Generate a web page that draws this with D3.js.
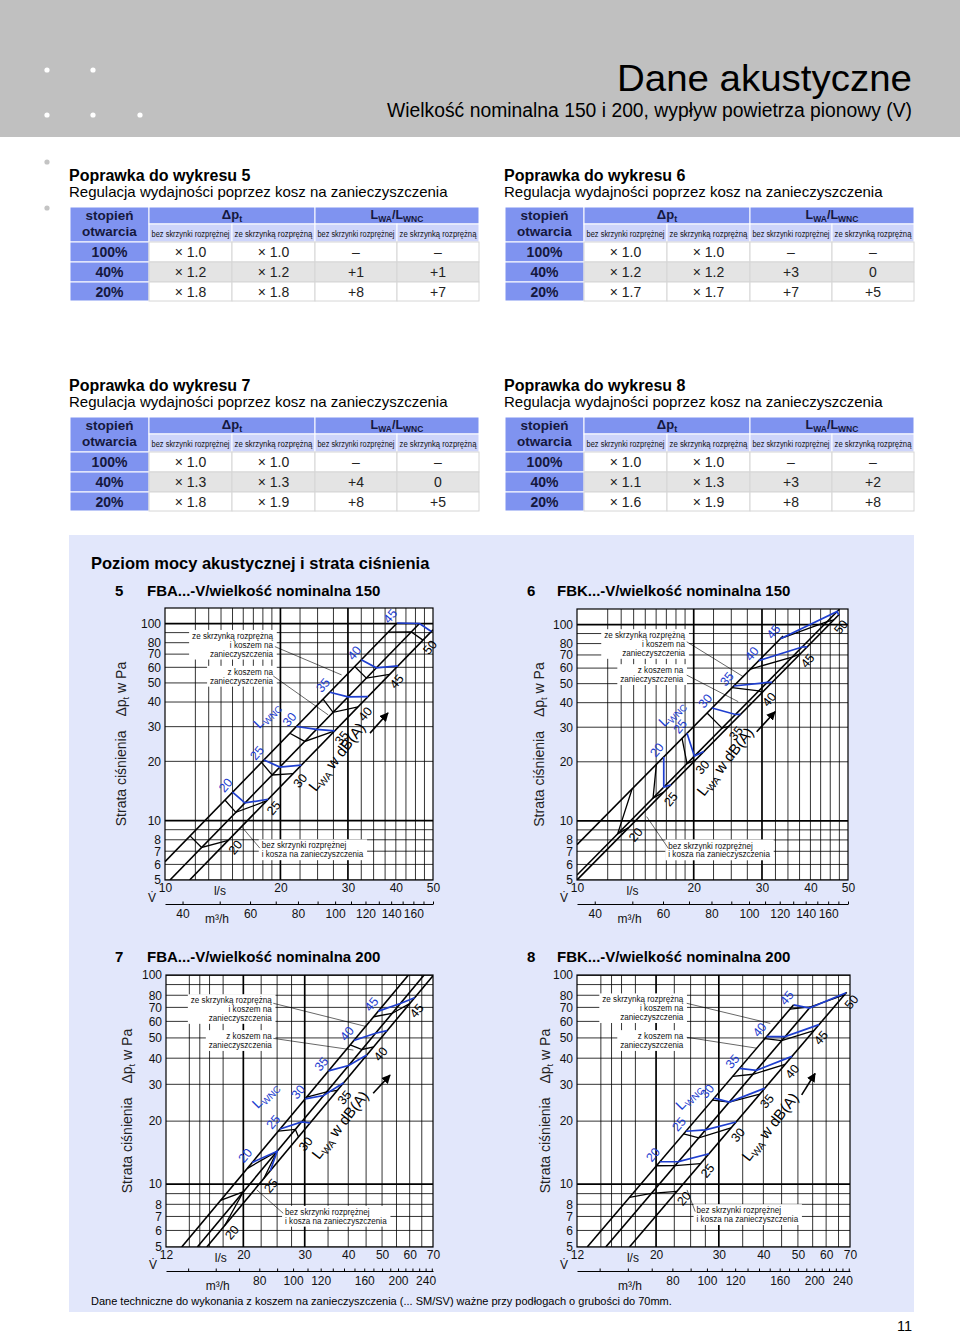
<!DOCTYPE html>
<html><head><meta charset="utf-8">
<script src="https://cdn.jsdelivr.net/npm/d3@7"></script>
<style>
body{margin:0;background:#fff;}
svg{display:block;font-family:"Liberation Sans",Arial,Helvetica,sans-serif;}
</style></head><body>
<svg id="page" width="960" height="1335"></svg>
<script>
// ---------------- DATA ----------------
const pageTitle = "Dane akustyczne";
const pageSubtitle = "Wielkość nominalna 150 i 200, wypływ powietrza pionowy (V)";
const sectionTitle = "Poziom mocy akustycznej i strata ciśnienia";
const footNote = "Dane techniczne do wykonania z koszem na zanieczyszczenia (... SM/SV) ważne przy podłogach o grubości do 70mm.";
const pageNumber = "11";

const tableNums = [5, 6, 7, 8];
const tableTitlePrefix = "Poprawka do wykresu ";
const tableSubtitle = "Regulacja wydajności poprzez kosz na zanieczyszczenia";
const openings = ["100%", "40%", "20%"];
const subHeads = ["bez skrzynki rozprężnej", "ze skrzynką rozprężną", "bez skrzynki rozprężnej", "ze skrzynką rozprężną"];
const table5 = [["× 1.0","× 1.0","–","–"],["× 1.2","× 1.2","+1","+1"],["× 1.8","× 1.8","+8","+7"]];
const table6 = [["× 1.0","× 1.0","–","–"],["× 1.2","× 1.2","+3","0"],["× 1.7","× 1.7","+7","+5"]];
const table7 = [["× 1.0","× 1.0","–","–"],["× 1.3","× 1.3","+4","0"],["× 1.8","× 1.9","+8","+5"]];
const table8 = [["× 1.0","× 1.0","–","–"],["× 1.1","× 1.3","+3","+2"],["× 1.6","× 1.9","+8","+8"]];

const chartTitles = ["FBA...-V/wielkość nominalna 150","FBK...-V/wielkość nominalna 150","FBA...-V/wielkość nominalna 200","FBK...-V/wielkość nominalna 200"];
const yTicks = [5,6,7,8,10,20,30,40,50,60,70,80,100];
const gridY = [5,6,7,8,9,10,20,30,40,50,60,70,80,90,100];
const gridYHeavy = [10,100];
const xTicks56 = [10,20,30,40,50];
const xTicks78 = [12,20,30,40,50,60,70];
const m3Ticks56 = [40,60,80,100,120,140,160];
const m3Ticks78 = [80,100,120,160,200,240];
const gridX56 = [12,13,14,15,16,17,18,19,20,22.5,25,27.5,30,32.5,35,37.5,40,42.5,45,47.5];
const gridX78 = [14,15,16,17.5,20,22.5,25,27.5,30,35,40,45,50,55,60,65];
const gridXHeavy = [20,30];
const lwaLevels = [20,25,30,35,40,45,50];
const lwncLevels = [20,25,30,35,40,45];
const annoTop = ["ze skrzynką rozprężną","i koszem na","zanieczyszczenia"];
const annoMid = ["z koszem na","zanieczyszczenia"];
const annoBot = ["bez skrzynki rozprężnej","i kosza na zanieczyszczenia"];

// system curves: Δp (Pa) at 10 l/s for [ze skrzynką+kosz, z koszem, bez skrzynki]; Δp ~ V²
const sys5 = [6.2, 4.71, 3.72];   const sysEnd5 = [40.3, 46.1, 50];
const sys6 = [7.56, 5.3, 5.0];    const sysEnd6 = [34, 47.5, 47.5];
const sys7 = [2.822, 2.295, 2.026]; const sysEnd7 = [70, 70, 70];
const sys8 = [3.043, 2.395, 1.763]; const sysEnd8 = [48.65, 54.24, 68.5];

// iso-lines: flow (l/s) where each level crosses [top, middle, bottom] curve
const lwa5 = [[11.62,12.46,14.62],[14.33,15.30,18.40],[17.85,19.03,21.59],[21.16,23.15,27.71],[25.84,27.44,31.88],[31.25,33.51,38.54],[38.2,43.9,47.07]];
const lwnc5 = [[15.00,16.16,18.58],[18.11,19.93,22.69],[22.02,24.83,27.71],[26.90,30.02,33.84],[32.5,35.58,40.52],[40.3,46.1,49.5]];
const lwa6 = [[13.87,12.73,13.59],[16.02,15.71,16.74],[18.66,19.22,20.20],[21.65,23.67,24.63],[25.12,29.43,30.03],[28.02,35.88,37.71],[33.48,44.19,45.97]];
const lwnc6 = [[16.74,16.74,17.48],[19.22,20.08,21.23],[22.30,25.63,26.40],[25.37,30.93,31.86],[29.43,38.08,39.23],[33.48,46.9,47.3]];
const lwa7 = [[17.2,20.0,17.7],[20.5,25.0,22.9],[25.2,28.2,28.8],[30.4,34.7,37.2],[40.5,43.8,47.3],[47.3,53.4,60.0]];
const lwnc7 = [[21.2,25.0,23.9],[25.5,29.4,31.1],[30.1,34.0,38.8],[35.1,40.1,45.2],[41.5,47.9,51.7],[48.8,56.4,62.0]];
const lwa8 = [[16.84,19.41,22.87],[20.05,22.62,26.65],[23.89,26.36,32.45],[28.77,32.10,39.09],[32.81,37.41,46.04],[40.38,45.03,55.45],[47.5,54.24,67.5]];
const lwnc8 = [[20.50,23.12,28.15],[24.25,27.54,33.53],[29.09,32.10,40.38],[34.27,38.23,48.11],[40.82,46.04,57.29],[48.65,53.88,68.3]];

// ---------------- LAYOUT / STYLE ----------------
const FONT = '"Liberation Sans", Arial, Helvetica, sans-serif';
const BLUE = "#1e3ecf";
const HEAD_BLUE = "#7f93f0";
const SUB_BLUE = "#cdd4fa";
const NAVY = "#15183d";
const svg = d3.select("#page");

// header band
svg.append("rect").attr("x",0).attr("y",0).attr("width",960).attr("height",137).attr("fill","#c0c0c0");
[[47,70],[93,70],[47,115],[93,115],[140,115]].forEach(p=>svg.append("circle").attr("cx",p[0]).attr("cy",p[1]).attr("r",2.6).attr("fill","#fff"));
[[47,162],[47,208]].forEach(p=>svg.append("circle").attr("cx",p[0]).attr("cy",p[1]).attr("r",2.6).attr("fill","#c4c4c4"));
svg.append("text").attr("x",912).attr("y",91).attr("text-anchor","end").attr("font-size",37)
  .attr("textLength",295).attr("lengthAdjust","spacingAndGlyphs").attr("fill","#000").text(pageTitle);
svg.append("text").attr("x",912).attr("y",117).attr("text-anchor","end").attr("font-size",19.5)
  .attr("textLength",525).attr("lengthAdjust","spacingAndGlyphs").attr("fill","#000").text(pageSubtitle);

function sub(sel, parts, subSize){
  parts.forEach(p=>{
    if(p[1]) sel.append("tspan").attr("font-size",subSize).attr("dy",3).text(p[0]);
    else {
      const t = sel.append("tspan").text(p[0]);
      if(p[2]) t.attr("dy",-3);
    }
  });
}

// ---------------- TABLES ----------------
function drawTable(num, tx, ty, rows){
  const g = svg.append("g");
  const cw=[79,83,83,82,82]; const cx=[tx]; cw.forEach(w=>cx.push(cx[cx.length-1]+w));
  const rh=[17,18,20,20,19]; const ry=[ty]; rh.forEach(h=>ry.push(ry[ry.length-1]+h));
  g.append("text").attr("x",tx-1).attr("y",ty-26).attr("font-size",16).attr("font-weight","bold").attr("fill","#000").text(tableTitlePrefix+num);
  g.append("text").attr("x",tx-1).attr("y",ty-10).attr("font-size",15).attr("fill","#000").text(tableSubtitle);
  const cell=(x,y,w,h,fill,stroke)=>g.append("rect").attr("x",x).attr("y",y).attr("width",w).attr("height",h).attr("fill",fill).attr("stroke",stroke).attr("stroke-width",1);
  cell(cx[0],ry[0],cw[0],rh[0]+rh[1],HEAD_BLUE,"#fff");
  g.append("text").attr("x",cx[0]+cw[0]/2).attr("y",ry[0]+12.5).attr("text-anchor","middle").attr("font-size",13.5).attr("font-weight","bold").attr("fill",NAVY).text("stopień");
  g.append("text").attr("x",cx[0]+cw[0]/2).attr("y",ry[0]+28.5).attr("text-anchor","middle").attr("font-size",13.5).attr("font-weight","bold").attr("fill",NAVY).text("otwarcia");
  cell(cx[1],ry[0],cw[1]+cw[2],rh[0],HEAD_BLUE,"#fff");
  cell(cx[3],ry[0],cw[3]+cw[4],rh[0],HEAD_BLUE,"#fff");
  const t1 = g.append("text").attr("x",cx[2]).attr("y",ry[0]+12).attr("text-anchor","middle").attr("font-size",13).attr("font-weight","bold").attr("fill",NAVY);
  sub(t1,[["Δp"],["t",true]],9);
  const t2 = g.append("text").attr("x",cx[4]).attr("y",ry[0]+11.5).attr("text-anchor","middle").attr("font-size",12.5).attr("font-weight","bold").attr("fill",NAVY);
  sub(t2,[["L"],["WA",true],["/L",false,true],["WNC",true]],8.5);
  for(let c=1;c<=4;c++){
    cell(cx[c],ry[1],cw[c],rh[1],SUB_BLUE,"#fff");
    const sg = g.append("g").attr("transform",`translate(${cx[c]+cw[c]/2},${ry[1]+12.5})`);
    const st = sg.append("text").attr("x",0).attr("y",0).attr("text-anchor","middle").attr("font-size",9.5).attr("fill","#111").text(subHeads[c-1]);
    const L = st.node().getComputedTextLength();
    sg.attr("transform",`translate(${cx[c]+cw[c]/2},${ry[1]+12.5}) scale(${(cw[c]-5)/L},1)`);
  }
  rows.forEach((row,i)=>{
    const yy=ry[2+i], hh=rh[2+i];
    cell(cx[0],yy,cw[0],hh,HEAD_BLUE,"#fff");
    g.append("text").attr("x",cx[0]+cw[0]/2).attr("y",yy+hh/2+5).attr("text-anchor","middle").attr("font-size",14).attr("font-weight","bold").attr("fill",NAVY).text(openings[i]);
    row.forEach((v,j)=>{
      cell(cx[j+1],yy,cw[j+1],hh,i===1?"#e4e4e4":"#fff","#d6d6d6");
      g.append("text").attr("x",cx[j+1]+cw[j+1]/2).attr("y",yy+hh/2+5).attr("text-anchor","middle").attr("font-size",14).attr("fill","#222").text(v);
    });
  });
}
drawTable(tableNums[0],70,207,table5);
drawTable(tableNums[1],505,207,table6);
drawTable(tableNums[2],70,417,table7);
drawTable(tableNums[3],505,417,table8);

// ---------------- PANEL ----------------
svg.append("rect").attr("x",69).attr("y",535).attr("width",845).attr("height",777).attr("fill","#e2e7fb");
svg.append("text").attr("x",91).attr("y",569).attr("font-size",16.5).attr("font-weight","bold").attr("fill","#000").text(sectionTitle);
svg.append("text").attr("x",91).attr("y",1305).attr("font-size",11).attr("fill","#000").text(footNote);
svg.append("text").attr("x",912).attr("y",1331).attr("text-anchor","end").attr("font-size",14.5).attr("fill","#000").text(pageNumber);

const defs = svg.append("defs");
defs.append("marker").attr("id","arr").attr("viewBox","0 0 10 10").attr("refX",9).attr("refY",5)
  .attr("markerWidth",9).attr("markerHeight",9).attr("markerUnits","userSpaceOnUse").attr("orient","auto")
  .append("path").attr("d","M0,0 L10,5 L0,10 z").attr("fill","#000");

// ---------------- CHARTS ----------------
const charts = [
 {num:"5", title:chartTitles[0], tx:115, ty:596, x0:165,y0:608,w:268,h:272, xDom:[10,50], yDom:[5,120], xTicks:xTicks56, m3:m3Ticks56, gridX:gridX56,
  sys:sys5, sysEnd:sysEnd5, lwa:lwa5, lwnc:lwnc5, ytOff:44,
  b1:{fx:0.403,fy:0.102}, b2:{fx:0.403,fy:0.234}, b3:{fx:0.361,fy:0.872},
  leaders:[[0.410,0.142,0.659,0.246],[0.404,0.25,0.609,0.393],[0.354,0.883,0.286,0.804]], lwncPos:[0.379,0.393], lwaPos:[0.641,0.547], arrow:[0.765,0.460,0.832,0.386]},
 {num:"6", title:chartTitles[1], tx:527, ty:596, x0:577,y0:609,w:271,h:271, xDom:[10,50], yDom:[5,120], xTicks:xTicks56, m3:m3Ticks56, gridX:gridX56,
  sys:sys6, sysEnd:sysEnd6, lwa:lwa6, lwnc:lwnc6, ytOff:38,
  b1:{fx:0.399,fy:0.096}, b2:{fx:0.392,fy:0.225}, b3:{fx:0.337,fy:0.872},
  leaders:[[0.405,0.121,0.614,0.250],[0.405,0.244,0.595,0.342],[0.337,0.883,0.257,0.766]], lwncPos:[0.349,0.385], lwaPos:[0.546,0.563], arrow:[0.663,0.453,0.731,0.379]},
 {num:"7", title:chartTitles[2], tx:115, ty:962, x0:166,y0:975,w:267,h:272, xDom:[12,70], yDom:[5,100], xTicks:xTicks78, m3:m3Ticks78, gridX:gridX78,
  sys:sys7, sysEnd:sysEnd7, lwa:lwa7, lwnc:lwnc7, ytOff:39,
  b1:{fx:0.396,fy:0.092}, b2:{fx:0.396,fy:0.224}, b3:{fx:0.446,fy:0.870},
  leaders:[[0.402,0.104,0.752,0.190],[0.402,0.233,0.702,0.276],[0.439,0.876,0.340,0.790]], lwncPos:[0.371,0.441], lwaPos:[0.652,0.551], arrow:[0.776,0.435,0.839,0.368]},
 {num:"8", title:chartTitles[3], tx:527, ty:962, x0:577,y0:975,w:273,h:272, xDom:[12,70], yDom:[5,100], xTicks:xTicks78, m3:m3Ticks78, gridX:gridX78,
  sys:sys8, sysEnd:sysEnd8, lwa:lwa8, lwnc:lwnc8, ytOff:32,
  b1:{fx:0.389,fy:0.089}, b2:{fx:0.389,fy:0.224}, b3:{fx:0.438,fy:0.864},
  leaders:[[0.402,0.104,0.708,0.178],[0.402,0.229,0.658,0.269],[0.433,0.870,0.403,0.790]], lwncPos:[0.409,0.447], lwaPos:[0.707,0.558], arrow:[0.823,0.441,0.872,0.362]}
];

charts.forEach((c,ci)=>{
  const g = svg.append("g");
  const x = d3.scaleLog().domain(c.xDom).range([c.x0,c.x0+c.w]);
  const y = d3.scaleLog().domain(c.yDom).range([c.y0+c.h,c.y0]);
  const px = f=>c.x0+f*c.w, py = f=>c.y0+f*c.h;
  const dp = (k,V)=>k*(V/10)*(V/10);

  g.append("text").attr("x",c.tx).attr("y",c.ty).attr("font-size",15).attr("font-weight","bold").text(c.num);
  g.append("text").attr("x",c.tx+(ci%2===0?32:30)).attr("y",c.ty).attr("font-size",15).attr("font-weight","bold").text(c.title);

  const clipId="clip"+ci;
  defs.append("clipPath").attr("id",clipId).append("rect").attr("x",c.x0).attr("y",c.y0).attr("width",c.w).attr("height",c.h);
  g.append("rect").attr("x",c.x0).attr("y",c.y0).attr("width",c.w).attr("height",c.h).attr("fill","#fff");
  const pg = g.append("g").attr("clip-path",`url(#${clipId})`);

  // grid
  gridY.forEach(v=>pg.append("line").attr("x1",c.x0).attr("x2",c.x0+c.w).attr("y1",y(v)).attr("y2",y(v))
    .attr("stroke","#000").attr("stroke-width",gridYHeavy.includes(v)?1.7:0.8));
  c.gridX.forEach(v=>pg.append("line").attr("x1",x(v)).attr("x2",x(v)).attr("y1",c.y0).attr("y2",c.y0+c.h)
    .attr("stroke","#000").attr("stroke-width",gridXHeavy.includes(v)?1.7:0.8));

  // annotation blocks (white backgrounds behind the text)
  const annoG = g.append("g");
  const blocks = [[c.b1,annoTop,"end"],[c.b2,annoMid,"end"],[c.b3,annoBot,"start"]];
  const bgG = annoG.append("g"), txtG = annoG.append("g");
  blocks.forEach(([b,lines,anchor])=>{
    const tg = txtG.append("g");
    lines.forEach((s,i)=>{
      const t = tg.append("text").attr("x",px(b.fx)).attr("y",py(b.fy)+3.2+i*8.8).attr("text-anchor",anchor)
        .attr("font-size",9.2).attr("fill","#111").text(s);
      const L = t.node().getComputedTextLength();
      t.attr("textLength",L*0.88).attr("lengthAdjust","spacingAndGlyphs");
    });
    const bb = tg.node().getBBox();
    bgG.append("rect").attr("x",bb.x-3).attr("y",bb.y-1).attr("width",bb.width+6).attr("height",bb.height+2).attr("fill","#fff");
  });

  // system curves
  const line = d3.line().x(d=>x(d[0])).y(d=>y(d[1]));
  c.sys.forEach((k,i)=>{
    const v0 = Math.max(c.xDom[0], 10*Math.sqrt(c.yDom[0]/k));
    pg.append("path").attr("d",line([[v0,dp(k,v0)],[c.sysEnd[i],dp(k,c.sysEnd[i])]]))
      .attr("fill","none").attr("stroke","#000").attr("stroke-width",1.6);
  });

  // iso-lines
  const iso = (arr, levels, color, isBlue)=>{
    arr.forEach((vs,i)=>{
      const pts = vs.map((V,j)=>[V,dp(c.sys[j],V)]);
      pg.append("path").attr("d",line(pts)).attr("fill","none").attr("stroke",color).attr("stroke-width",isBlue?1.7:1.3);
      const anchor = isBlue? pts[0] : pts[2];
      const lx = x(anchor[0]) + (isBlue?-7:7), ly = y(anchor[1]) + (isBlue?-7:7);
      g.append("text").attr("transform",`translate(${lx},${ly}) rotate(-50)`).attr("text-anchor","middle")
        .attr("dy","0.35em").attr("font-size",12.5).attr("fill",color).text(levels[i]);
    });
  };
  iso(c.lwa, lwaLevels, "#000", false);
  iso(c.lwnc, lwncLevels, BLUE, true);

  // leaders
  c.leaders.forEach(l=>g.append("line").attr("x1",px(l[0])).attr("y1",py(l[1])).attr("x2",px(l[2])).attr("y2",py(l[3]))
    .attr("stroke","#000").attr("stroke-width",0.6));

  // LWNC and LWA labels
  const tn = g.append("text").attr("transform",`translate(${px(c.lwncPos[0])},${py(c.lwncPos[1])}) rotate(-45)`)
    .attr("text-anchor","middle").attr("dy","0.35em").attr("font-size",14).attr("fill",BLUE);
  sub(tn,[["L"],["WNC",true]],9.5);
  const ta = g.append("text").attr("transform",`translate(${px(c.lwaPos[0])},${py(c.lwaPos[1])}) rotate(-52)`)
    .attr("text-anchor","middle").attr("dy","0.35em").attr("font-size",15).attr("fill","#000");
  sub(ta,[["L"],["WA",true],[" w dB(A)",false,true]],10);
  g.append("line").attr("x1",px(c.arrow[0])).attr("y1",py(c.arrow[1])).attr("x2",px(c.arrow[2])).attr("y2",py(c.arrow[3]))
    .attr("stroke","#000").attr("stroke-width",1.6).attr("marker-end","url(#arr)");

  // border
  g.append("rect").attr("x",c.x0).attr("y",c.y0).attr("width",c.w).attr("height",c.h).attr("fill","none").attr("stroke","#000").attr("stroke-width",1.2);

  // axes
  const styleAxis = a=>a.attr("font-family",FONT).attr("font-size",12).call(s=>s.selectAll("text").attr("fill","#111"));
  g.append("g").attr("transform",`translate(${c.x0},0)`)
    .call(d3.axisLeft(y).tickValues(yTicks).tickFormat(d3.format("d")).tickSize(0).tickPadding(4))
    .call(a=>a.select(".domain").remove()).call(styleAxis);
  g.append("g").attr("transform",`translate(0,${c.y0+c.h})`)
    .call(d3.axisBottom(x).tickValues(c.xTicks).tickFormat(d3.format("d")).tickSize(0).tickPadding(3))
    .call(a=>a.select(".domain").remove()).call(styleAxis);
  g.append("text").attr("x",px(0.205)).attr("y",c.y0+c.h+15).attr("text-anchor","middle").attr("font-size",12).attr("fill","#111").text("l/s");
  g.append("text").attr("x",c.x0-13).attr("y",c.y0+c.h+22).attr("text-anchor","middle").attr("font-size",12).attr("fill","#111").text("V\u0307");

  const xm = d3.scaleLog().domain([c.xDom[0]*3.6,c.xDom[1]*3.6]).range([c.x0,c.x0+c.w]);
  const my = c.y0+c.h+24;
  g.append("g").attr("transform",`translate(0,${my})`)
    .call(d3.axisBottom(xm).tickValues(c.m3).tickFormat(d3.format("d")).tickSizeInner(0).tickSizeOuter(0).tickPadding(5))
    .call(a=>a.select(".domain").attr("stroke","#000").attr("stroke-width",1)).call(styleAxis);
  const minor = d3.range(40,260,10).filter(v=>v>=c.xDom[0]*3.6 && v<=c.xDom[1]*3.6);
  g.append("g").attr("transform",`translate(0,${my})`)
    .call(d3.axisTop(xm).tickValues(minor).tickFormat("").tickSize(2.5))
    .call(a=>a.select(".domain").remove());
  g.append("text").attr("x",px(0.194)).attr("y",my+19).attr("text-anchor","middle").attr("font-size",12).attr("fill","#111").text("m³/h");

  // y-axis title
  const yt = g.append("text").attr("transform",`translate(${c.x0-c.ytOff},${c.y0+c.h/2}) rotate(-90)`)
    .attr("text-anchor","middle").attr("dy","0.35em").attr("font-size",14).attr("fill","#222");
  yt.append("tspan").text("Strata ciśnienia");
  yt.append("tspan").attr("dx",14).text("Δp");
  yt.append("tspan").attr("font-size",9.5).attr("dy",3).text("t");
  yt.append("tspan").attr("dy",-3).text(" w Pa");
});
</script>
</body></html>
